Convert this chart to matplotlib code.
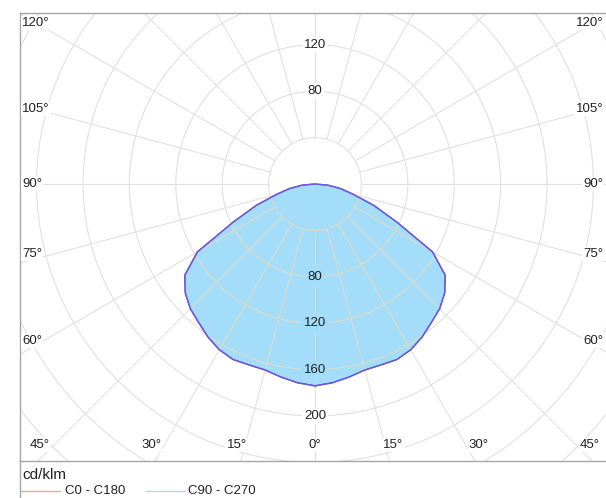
import numpy as np
import matplotlib
matplotlib.use("Agg")
import matplotlib.pyplot as plt
from matplotlib.lines import Line2D

plt.rcParams['font.family'] = ['Liberation Sans', 'DejaVu Sans']

# luminous intensity distribution, cd/klm, gamma measured from nadir
gamma = [0, 5, 10, 15, 20, 25, 30, 35, 40, 45, 50, 55, 60, 65, 70, 75, 80, 85, 90]
c0_c180 = [174, 172, 169, 166, 166, 167, 165, 161, 156, 152, 146, 137, 117, 78, 54, 34, 22, 11, 0]
c90_c270 = [174, 172, 169, 166, 166, 167, 165, 161, 156, 152, 146, 137, 117, 78, 54, 34, 22, 11, 0]

ring_values = [40, 80, 120, 160, 200, 240, 280, 320, 360]
upper_labels = [80, 120]
lower_labels = [80, 120, 160, 200]
side_angles = [120, 105, 90, 75, 60]
bottom_angles = [0, 15, 30, 45]
unit_label = "cd/klm"
series_names = ["C0 - C180", "C90 - C270"]

fill_col = '#a3ddf9'
edge_col = '#6c5ad6'
grid_col = '#e1e1e1'
grid_in_col = '#dcdac6'
red_col = '#f2a3a3'
txt_col = '#222222'
frame_col = '#a6a6a6'

W, H = 606, 498
cx, cy = 315, 184      # pole in pixels
ppu = 1.16             # pixels per cd/klm
left, right, top, bottom = 20, 614, 13, 461

fig = plt.figure(figsize=(W / 100, H / 100), dpi=100)
ax = fig.add_axes([left / W, 1 - bottom / H, (right - left) / W, (bottom - top) / H])
ax.set_xlim((left - cx) / ppu, (right - cx) / ppu)
ax.set_ylim(-(bottom - cy) / ppu, (cy - top) / ppu)
ax.set_xticks([])
ax.set_yticks([])
for side, sp in ax.spines.items():
    sp.set_color(frame_col)
    sp.set_linewidth(1.0)


def grid_lines(color, zorder, clip=None):
    t = np.linspace(0, 2 * np.pi, 720)
    arts = []
    for r in ring_values:
        arts += ax.plot(r * np.cos(t), r * np.sin(t), color=color, lw=0.8, zorder=zorder)
    r0, r1 = ring_values[0], 500
    for g in range(0, 181, 15):
        gr = np.radians(g)
        for s in (-1, 1):
            arts += ax.plot([s * r0 * np.sin(gr), s * r1 * np.sin(gr)],
                            [-r0 * np.cos(gr), -r1 * np.cos(gr)],
                            color=color, lw=0.8, zorder=zorder)
    if clip is not None:
        for a in arts:
            a.set_clip_path(clip)


grid_lines(grid_col, 1)

# curves: right half from nadir to horizon, then mirrored back
g = np.radians(np.array(gamma, dtype=float))
i90 = np.array(c90_c270, dtype=float)
i0 = np.array(c0_c180, dtype=float)
xs = np.concatenate([i90 * np.sin(g), -(i90 * np.sin(g))[::-1]])
ys = np.concatenate([-i90 * np.cos(g), (-i90 * np.cos(g))[::-1]])
poly = ax.fill(xs, ys, color=fill_col, lw=0, zorder=2)[0]
x0 = np.concatenate([i0 * np.sin(g), -(i0 * np.sin(g))[::-1]])
y0 = np.concatenate([-i0 * np.cos(g), (-i0 * np.cos(g))[::-1]])

grid_lines(grid_in_col, 3, clip=poly)
ax.plot(x0, y0, color=edge_col, lw=1.0, zorder=4)
ax.plot(xs, ys, color=edge_col, lw=1.0, zorder=4)

# intensity labels on the vertical axis
fs = 9.5
for r in upper_labels:
    ax.text(0, r, str(r), ha='center', va='center', fontsize=fs, color=txt_col, zorder=5,
            bbox=dict(boxstyle='square,pad=0.15', fc='white', ec='none'))
for r in lower_labels:
    inside = r < np.interp(0, gamma, c90_c270)
    ax.text(0, -r, str(r), ha='center', va='center', fontsize=fs, color=txt_col, zorder=5,
            bbox=dict(boxstyle='square,pad=0.15', fc=fill_col if inside else 'white', ec='none'))

# angle labels along the frame
xl, xr = ax.get_xlim()
yb, yt = ax.get_ylim()
d_side = (cx - 35) / ppu
for a in side_angles:
    y = -d_side * np.cos(np.radians(a)) / np.sin(np.radians(a))
    y = min(y, yt - 10 / ppu)
    if a < 90:
        y += 5 / ppu
    ax.text(xl + 2 / ppu, y, f"{a}°", ha='left', va='center', fontsize=fs, color=txt_col,
            zorder=5, bbox=dict(boxstyle='square,pad=0.1', fc='white', ec='none'))
    ax.text(xr - 11 / ppu, y, f"{a}°", ha='right', va='center', fontsize=fs, color=txt_col,
            zorder=5, bbox=dict(boxstyle='square,pad=0.1', fc='white', ec='none'))
y_bot = yb + 16 / ppu
for a in bottom_angles:
    x = -yb * np.tan(np.radians(a))
    if a == 0:
        off = 0
    elif a == 45:
        off = x - 2 / ppu
    else:
        off = x + 4 / ppu
    for s in ((1,) if a == 0 else (-1, 1)):
        ax.text(s * off, y_bot, f"{a}°", ha='center', va='center', fontsize=fs,
                color=txt_col, zorder=5,
                bbox=dict(boxstyle='square,pad=0.1', fc='white', ec='none'))

# legend strip under the diagram
fig.add_artist(Line2D([left / W, left / W], [0, 1 - bottom / H], color=frame_col, lw=1.0))
fig.text(22 / W, 1 - 475 / H, unit_label, fontsize=11, color=txt_col, va='center', ha='left')
fig.add_artist(Line2D([21 / W, 60 / W], [1 - 491 / H] * 2, color=red_col, lw=1.0))
fig.text(65 / W, 1 - 491 / H, series_names[0], fontsize=fs, color=txt_col, va='center', ha='left')
fig.add_artist(Line2D([146 / W, 185 / W], [1 - 491 / H] * 2, color=fill_col, lw=1.0))
fig.text(188 / W, 1 - 491 / H, series_names[1], fontsize=fs, color=txt_col, va='center', ha='left')

fig.savefig("out.png", dpi=100)
